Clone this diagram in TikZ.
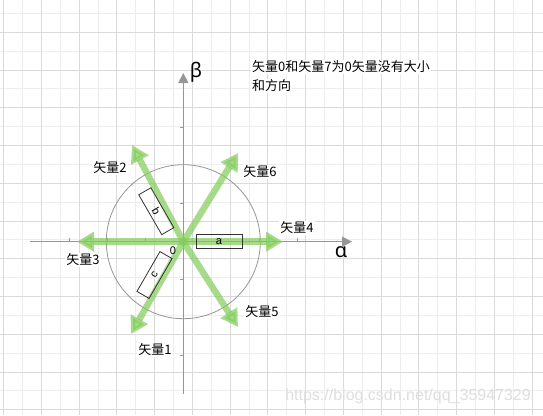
\documentclass[tikz,border=0pt]{standalone}
\usepackage{fontspec}
\setmainfont{Liberation Sans}
\newfontfamily\cjk{Noto Sans CJK SC}
\newfontfamily\grk{Noto Sans}
\usetikzlibrary{arrows.meta,calc}
\definecolor{gridD}{RGB}{218,218,218}
\definecolor{gridL}{RGB}{237,237,237}
\definecolor{axisC}{RGB}{150,150,150}
\definecolor{vecG}{RGB}{131,205,91}
\definecolor{wmark}{RGB}{222,222,222}
\tikzset{
  gridmajor/.style={draw=gridD, line width=1pt},
  gridminor/.style={draw=gridL, line width=1pt},
  axisline/.style={draw=axisC, line width=1.3pt, -{Triangle[length=10pt,width=10pt]}},
  tickline/.style={draw=axisC, line width=0.8pt},
  vecarrow/.style={draw=vecG, line width=6.5pt, draw opacity=0.7, fill opacity=0.7,
     -{Triangle[length=17pt,width=19pt]}},
  veclabel/.style={font=\cjk\fontsize{13}{15}\selectfont, fill=white, inner sep=1pt},
  notebox/.style={draw=black!80, line width=0.8pt, minimum width=46pt, minimum height=14pt,
     inner sep=0pt, font=\fontsize{11}{12}\selectfont},
}
\begin{document}
\begin{tikzpicture}[x=1pt,y=-1pt]
\useasboundingbox (0,0) rectangle (543,415);
\fill[white] (0,0) rectangle (543,415);
% grid
\foreach \i in {0,...,14} {
  \draw[gridminor] ({3.7+37.75*\i-18.875},0) -- ({3.7+37.75*\i-18.875},415);
  \draw[gridminor] (0,{32.3+37.75*\i-18.875}) -- (543,{32.3+37.75*\i-18.875});
}
\foreach \i in {0,...,14} {
  \draw[gridmajor] ({3.7+37.75*\i},0) -- ({3.7+37.75*\i},415);
  \draw[gridmajor] (0,{32.3+37.75*\i-37.75}) -- (543,{32.3+37.75*\i-37.75});
}
% origin and axes
\coordinate (O) at (183.3,241.7);
\coordinate (xs) at (30,241.7);
\coordinate (xe) at (352,241.7);
\coordinate (ys) at (183.3,394);
\coordinate (ye) at (183.3,73);
\draw[draw=axisC, line width=0.8pt] (O) circle[radius=77];
\draw[axisline] (xs) -- (xe);
\draw[axisline] (ys) -- (ye);
\foreach \k in {-3,-2,-1,1,2,3} {
  \draw[tickline] ($(O)+(38*\k,0)$) -- ++(0,-3.5);
}
\foreach \k in {-3,-1,1,3} {
  \draw[tickline] ($(O)+(0,38*\k)$) -- ++(-3.5,0);
}
\node[font=\grk\fontsize{20}{22}\selectfont, inner sep=0pt] (beta) at (196,72) {β};
\node[font=\grk\fontsize{20}{22}\selectfont, inner sep=0pt] (alpha) at (341,252) {α};
% vectors
\coordinate (t4) at (283,241.7);
\coordinate (t3) at (77,241.7);
\coordinate (t2) at (132,145);
\coordinate (t6) at (238,153);
\coordinate (t5) at (238,327);
\coordinate (t1) at (131,334);
\foreach \t in {t1,t2,t3,t4,t5,t6} {
  \draw[vecarrow] (O) -- (\t);
}
% boxes
\node[notebox] (boxa) at (219,241.7) {a};
\node[notebox, rotate=-60] (boxb) at (156.3,211.2) {b};
\node[notebox, rotate=60] (boxc) at (154.5,275) {c};
\node[font=\fontsize{11}{12}\selectfont, inner sep=0pt] (zero) at (173,250.5) {0};
% labels
\node[veclabel] (l2) at (110,168) {矢量2};
\node[veclabel] (l6) at (260,172) {矢量6};
\node[veclabel] (l4) at (297,228) {矢量4};
\node[veclabel] (l3) at (83,260) {矢量3};
\node[veclabel] (l5) at (262,312) {矢量5};
\node[veclabel] (l1) at (155,350) {矢量1};
\node[veclabel, anchor=west] (n1) at (251,66.7) {矢量0和矢量7为0矢量没有大小};
\node[veclabel, anchor=west] (n2) at (251,86) {和方向};
% watermark
\node[text=wmark, font=\fontsize{16}{18}\selectfont, anchor=east, inner sep=0pt] (wm) at (531,396) {https://blog.csdn.net/qq\_35947329};
\end{tikzpicture}
\end{document}
